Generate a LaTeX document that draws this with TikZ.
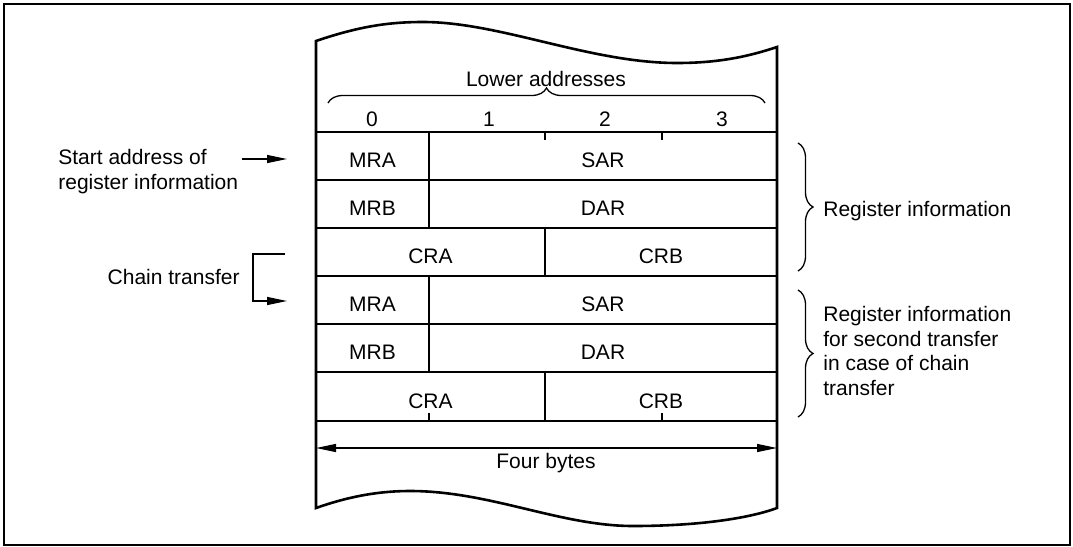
\documentclass[tikz,border=0pt]{standalone}
\usepackage{fontspec}
\setmainfont{Liberation Sans}
\usetikzlibrary{arrows.meta,decorations.pathreplacing}
\begin{document}
\begin{tikzpicture}[x=0.5pt,y=-0.5pt,
  font=\fontsize{10.5}{12.3}\selectfont,
  thickline/.style={line width=1.3pt},
  thinline/.style={line width=0.65pt},
  cell/.style={draw,thickline},
  lbl/.style={inner sep=0pt,anchor=base},
  tiparrow/.style={-{Triangle[length=10pt,width=4pt]}},
  bothtips/.style={{Triangle[length=10pt,width=4pt]}-{Triangle[length=10pt,width=4pt]}},
  bracestyle/.style={thinline,decorate,decoration={brace,amplitude=7.5pt}}]
\useasboundingbox (0,0) rectangle (1073,547);
% outer frame
\draw[line width=1pt] (4,4) rectangle (1070,545);
% memory outline with wavy top and bottom
\draw[thickline,line join=miter]
  (316,41) .. controls (360,26) and (390,22) .. (423,22)
  .. controls (500,22) and (590,63) .. (677,63)
  .. controls (720,63) and (750,56) .. (777,47)
  -- (777,508)
  .. controls (750,518) and (700,526) .. (633,526)
  .. controls (560,526) and (490,491) .. (410,491)
  .. controls (380,491) and (350,496) .. (316,508) -- cycle;
% header
\node[lbl] (lower) at (546,86) {Lower addresses};
\draw[bracestyle] (328,103) -- (765,103);
\node[lbl] (b0) at (372,126) {0};
\node[lbl] (b1) at (489,126) {1};
\node[lbl] (b2) at (605,126) {2};
\node[lbl] (b3) at (722,126) {3};
% first register information block
\draw[cell] (316,132) rectangle (429,180);
\draw[cell] (429,132) rectangle (777,180);
\draw[cell] (316,180) rectangle (429,228);
\draw[cell] (429,180) rectangle (777,228);
\draw[cell] (316,228) rectangle (545,276);
\draw[cell] (545,228) rectangle (777,276);
\node[lbl] (mra1) at (372.5,167) {MRA};
\node[lbl] (sar1) at (603,167) {SAR};
\node[lbl] (mrb1) at (372.5,215) {MRB};
\node[lbl] (dar1) at (603,215) {DAR};
\node[lbl] (cra1) at (430.5,263) {CRA};
\node[lbl] (crb1) at (661,263) {CRB};
% second register information block
\draw[cell] (316,276) rectangle (429,324);
\draw[cell] (429,276) rectangle (777,324);
\draw[cell] (316,324) rectangle (429,372);
\draw[cell] (429,324) rectangle (777,372);
\draw[cell] (316,372) rectangle (545,421);
\draw[cell] (545,372) rectangle (777,421);
\node[lbl] (mra2) at (372.5,311) {MRA};
\node[lbl] (sar2) at (603,311) {SAR};
\node[lbl] (mrb2) at (372.5,359) {MRB};
\node[lbl] (dar2) at (603,359) {DAR};
\node[lbl] (cra2) at (430.5,408) {CRA};
\node[lbl] (crb2) at (661,408) {CRB};
% byte ticks
\draw[thickline] (545,132) -- (545,140);
\draw[thickline] (662,132) -- (662,140);
\draw[thickline] (429,421) -- (429,413);
\draw[thickline] (662,421) -- (662,413);
% four bytes
\coordinate (fbl) at (316,448);
\coordinate (fbr) at (777,448);
\draw[thinline,bothtips] (fbl) -- (fbr);
\node[lbl] (four) at (546,468) {Four bytes};
% left labels
\node[anchor=west,align=left,inner sep=0pt,font=\fontsize{10.5}{12.5}\selectfont] (start) at (58,172) {Start address of\\register information};
\coordinate (sa1) at (242,159);
\coordinate (sa2) at (287,159);
\draw[thinline,tiparrow] (sa1) -- (sa2);
\node[anchor=base east,inner sep=0pt] (chain) at (240,284) {Chain transfer};
\coordinate (ch1) at (285,254);
\coordinate (ch2) at (253,254);
\coordinate (ch3) at (253,301);
\coordinate (ch4) at (287,301);
\draw[thinline,tiparrow] (ch1) -- (ch2) -- (ch3) -- (ch4);
% right braces and labels
\draw[bracestyle] (798,143) -- (798,271);
\draw[bracestyle] (798,290) -- (798,417);
\node[anchor=base west,inner sep=0pt] (reg1) at (823,216) {Register information};
\node[anchor=west,align=left,inner sep=0pt] (reg2) at (823,351) {Register information\\for second transfer\\in case of chain\\transfer};
\end{tikzpicture}
\end{document}
